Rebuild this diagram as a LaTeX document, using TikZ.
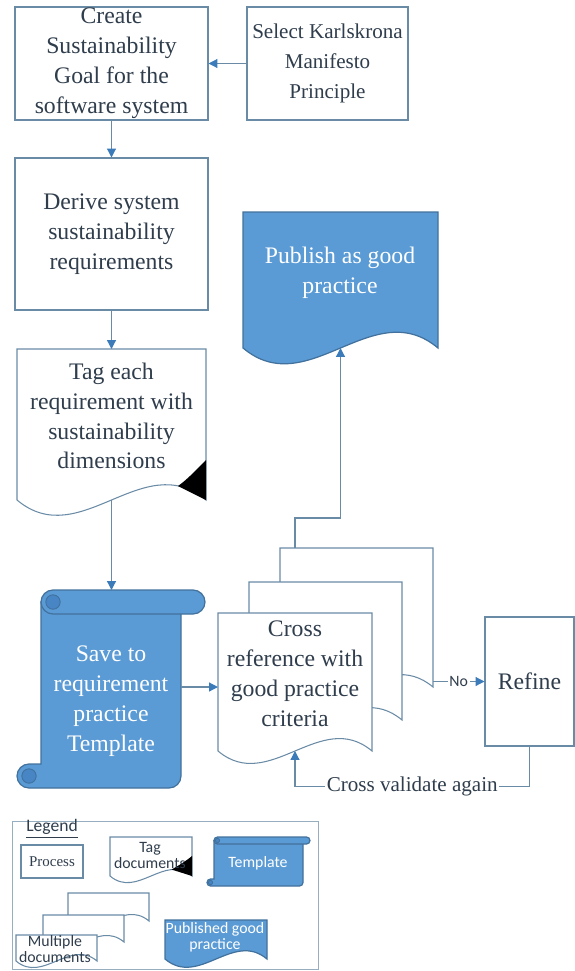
\documentclass[tikz,border=0pt]{standalone}
\usepackage{fontspec}
\setmainfont{Liberation Serif}
\newfontfamily\bodyfont{Liberation Serif}
\newfontfamily\legendfont{Carlito}
\usetikzlibrary{arrows.meta}

\definecolor{lineblue}{HTML}{6A8BA6}
\definecolor{arrowblue}{HTML}{3C7BBA}
\definecolor{fillblue}{HTML}{5B9BD5}
\definecolor{edgeblue}{HTML}{41719C}
\definecolor{curlblue}{HTML}{4785C4}
\definecolor{txt}{HTML}{2F3D4C}

\newcommand{\mainsize}{\bodyfont\fontsize{13.5}{17}\selectfont}
\newcommand{\legsize}{\legendfont\fontsize{9}{9}\selectfont}

% document outline: left, top, right, bottom (ends of the wave)
\newcommand{\docpath}[4]{(#1,#2) -- (#3,#2) -- (#3,#4) .. controls ({#3-(#3-#1)/3},{#4-0.28*(#3-#1)}) and ({#1+(#3-#1)/3},{#4+0.28*(#3-#1)}) .. (#1,#4) -- cycle}

% scroll: left, top, right, bottom, roll radius
\newcommand{\scrollshape}[5]{%
  \pgfmathsetmacro\sxl{#1+2*#5}
  \pgfmathsetmacro\sxr{#3-2*#5}
  \pgfmathsetmacro\srr{#5*0.02}
  \pgfmathsetmacro\scr{0.6*#5}
  \filldraw[tmpl] (\sxl,{#2+#5}) -- (\sxl,{#4-2*#5}) -- ({#1+#5},{#4-2*#5})
    arc[start angle=-90, end angle=-270, radius=#5] -- ({\sxr-#5},#4)
    arc[start angle=90, end angle=0, radius=#5] -- (\sxr,{#2+#5}) -- cycle;
  \filldraw[tmpl, rounded corners=\srr cm] (\sxl,#2) rectangle (#3,{#2+2*#5});
  \filldraw[curl] ({\sxl+#5},{#2+#5}) circle[radius=\scr];
  \filldraw[curl] ({#1+#5},{#4-#5}) circle[radius=\scr];
}

\begin{document}
\begin{tikzpicture}[x=0.02cm, y=-0.02cm,
    procbox/.style={draw=lineblue, line width=0.6pt, fill=white, text=txt, align=center, font=\mainsize, inner sep=0pt},
    maintext/.style={text=txt, align=center, font=\mainsize},
    whitetext/.style={text=white, align=center, font=\mainsize},
    legtext/.style={text=txt, align=center, font=\legsize},
    docline/.style={draw=lineblue, line width=0.6pt, fill=white},
    bluedoc/.style={draw=edgeblue, line width=0.7pt, fill=fillblue},
    tmpl/.style={draw=edgeblue, line width=0.7pt, fill=fillblue},
    curl/.style={draw=edgeblue, line width=0.5pt, fill=curlblue},
    flow/.style={draw=lineblue, line width=0.7pt, -{Triangle[length=5pt,width=5pt,color=arrowblue]}},
    link/.style={draw=lineblue, line width=0.7pt}]
    \useasboundingbox (0,0) rectangle (575,971);

    % boxes
    \node[procbox, minimum width=3.86cm, minimum height=2.26cm] (create) at (111.5,63.5) {Create\\Sustainability\\Goal for the\\software system};
    \node[procbox, minimum width=3.22cm, minimum height=2.26cm, font=\bodyfont\fontsize{12}{17}\selectfont] (select) at (327.5,63.5) {Select Karlskrona\\Manifesto\\Principle};
    \node[procbox, minimum width=3.86cm, minimum height=3.04cm] (derive) at (111.5,234) {Derive system\\sustainability\\requirements};
    \node[procbox, minimum width=1.78cm, minimum height=2.58cm] (refine) at (529.5,681.5) {Refine};

    % tag document
    \filldraw[docline] \docpath{17}{349}{206}{500};
    \fill[black] (206,460) .. controls (198,468) and (188,479) .. (178,486) -- (206,500) -- cycle;
    \node[maintext] (tag) at (111.5,416) {Tag each\\requirement with\\sustainability\\dimensions};
    \coordinate (tagin) at (111.5,349);
    \coordinate (tagout) at (111.5,500);

    % template
    \scrollshape{17}{590}{205}{788}{12}
    \node[whitetext] (save) at (111,701) {Save to\\requirement\\practice\\Template};
    \coordinate (savein) at (111.5,590);
    \coordinate (saveout) at (181,687);

    % cross reference documents
    \filldraw[docline] \docpath{280}{548}{433}{687};
    \filldraw[docline] \docpath{249}{582}{402}{720};
    \filldraw[docline] \docpath{218}{613}{372}{751};
    \node[maintext] (cross) at (295,674) {Cross\\reference with\\good practice\\criteria};
    \coordinate (crossin) at (218,687);
    \coordinate (crossback) at (295,751);
    \coordinate (backtop) at (295,548);
    \coordinate (backout) at (433,681.5);

    % publish
    \filldraw[bluedoc] \docpath{243}{212}{438}{348};
    \node[whitetext] (publish) at (340,273) {Publish as good\\practice};
    \coordinate (pubin) at (340.5,348);

    % connectors
    \draw[flow] (select.west) -- (create.east);
    \draw[flow] (create.south) -- (derive.north);
    \draw[flow] (derive.south) -- (tagin);
    \draw[flow] (tagout) -- (savein);
    \draw[flow] (saveout) -- (crossin);
    \draw[flow] (backtop) -- ++(0,-30) -| (pubin);
    \draw[flow] (backout) -- node[fill=white, inner sep=1pt, text=txt, font=\legsize] (no) {No} (refine.west);
    \draw[flow] (refine.south) -- ++(0,40) -| node[pos=0.25, fill=white, inner sep=1pt, text=txt, font=\bodyfont\fontsize{12}{14}\selectfont] (again) {Cross validate again} (crossback);

    % legend
    \draw[lineblue!70, line width=0.5pt] (12,821) rectangle (318,969);
    \node[legtext, font=\legendfont\fontsize{10}{10}\selectfont] (legend) at (52,829) {\underline{Legend}};
    \node[procbox, minimum width=1.24cm, minimum height=0.66cm, font=\bodyfont\fontsize{8.5}{9}\selectfont] (process) at (52,861.5) {Process};
    \filldraw[docline] \docpath{110}{837}{192}{876};
    \fill[black] (192,856) .. controls (186,861) and (178,866) .. (171.5,869.5) -- (192,876) -- cycle;
    \node[legtext] (legtag) at (150,855.5) {Tag\\documents};
    \scrollshape{207}{837}{310}{886}{3.5}
    \node[legtext, text=white] (legtmpl) at (258,863) {Template};
    \filldraw[docline] \docpath{68}{893}{149}{921};
    \filldraw[docline] \docpath{43}{915}{124}{942};
    \filldraw[docline] \docpath{16}{935}{97}{961};
    \node[legtext] (legmulti) at (55,949) {Multiple\\documents};
    \filldraw[bluedoc] \docpath{165}{920}{267}{959};
    \node[legtext, text=white] (legpub) at (215,937) {Published good\\practice};
\end{tikzpicture}
\end{document}
